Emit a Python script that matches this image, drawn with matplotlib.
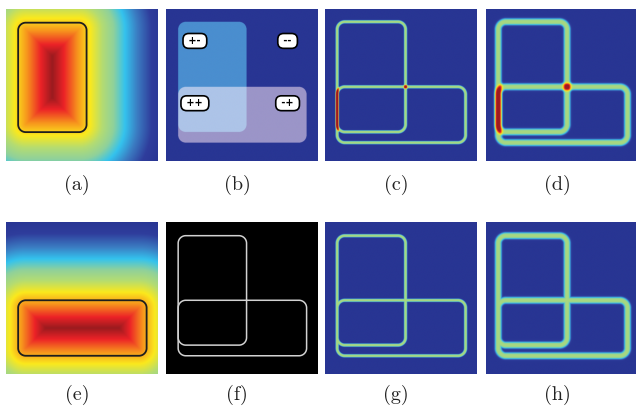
import numpy as np
import matplotlib
matplotlib.use("Agg")
import matplotlib.pyplot as plt
from matplotlib.colors import LinearSegmentedColormap, ListedColormap

# Square domain of 100 x 100 units, y measured downward from the top edge
RECT_A = [8.0, 53.0, 9.0, 81.0]     # x0, x1, y0, y1 : tall rounded rectangle
RECT_B = [8.0, 92.5, 51.5, 88.0]    # x0, x1, y0, y1 : wide rounded rectangle
CORNER_RADIUS = 5.0

PANEL_LABELS = ["(a)", "(b)", "(c)", "(d)", "(e)", "(f)", "(g)", "(h)"]

# Sign labels of the four regions in panel (b)
SIGN_LABELS = ["+-", "--", "++", "-+"]
SIGN_X = [19.0, 80.0, 19.0, 80.0]
SIGN_Y = [21.0, 21.0, 62.0, 62.0]

# Half-widths (domain units) and sharpness of the smoothed delta functions
NARROW_WIDTH, NARROW_POWER = 1.15, 4
WIDE_WIDTH, WIDE_POWER = 2.5, 3
DELTA_VMAX = 1.9

# Jet-like colour map
CMAP_STOPS = [0.0, 0.125, 0.25, 0.36, 0.46, 0.56, 0.67, 0.78, 0.9, 1.0]
CMAP_COLORS = ["#283593", "#2f3d9c", "#3b7cc2", "#34c3ee", "#8fd19b",
               "#b4dc72", "#fbe91c", "#f7941d", "#ec2227", "#9c1b1f"]

# Region colours of panel (b): outside, A only, B only, A and B
REGION_COLORS = ["#283593", "#4a8ecf", "#9b95c8", "#adc4e8"]

jet_print = LinearSegmentedColormap.from_list(
    "jet_print", list(zip(CMAP_STOPS, CMAP_COLORS)))
region_cmap = ListedColormap(REGION_COLORS)

N = 600
coords = (np.arange(N) + 0.5) * 100.0 / N
X, Y = np.meshgrid(coords, coords)
EXTENT = (0, 100, 100, 0)


def rounded_rect_sdf(x, y, rect, r):
    x0, x1, y0, y1 = rect
    cx, cy = (x0 + x1) / 2, (y0 + y1) / 2
    hx, hy = (x1 - x0) / 2 - r, (y1 - y0) / 2 - r
    qx = np.abs(x - cx) - hx
    qy = np.abs(y - cy) - hy
    outside = np.hypot(np.maximum(qx, 0), np.maximum(qy, 0))
    inside = np.minimum(np.maximum(qx, qy), 0)
    return outside + inside - r


def smooth_delta(phi, width, power):
    return np.exp(-np.abs(phi / width) ** power)


sd_a = rounded_rect_sdf(X, Y, RECT_A, CORNER_RADIUS)
sd_b = rounded_rect_sdf(X, Y, RECT_B, CORNER_RADIUS)

W, H = 636, 408
fig = plt.figure(figsize=(W / 100, H / 100), dpi=100)

PANEL_SIZE = 152
LEFTS = [6, 166, 325, 486]
TOPS = [9, 222]
LABEL_Y = [185, 395]

axes = []
for row in range(2):
    for col in range(4):
        ax = fig.add_axes([LEFTS[col] / W, 1 - (TOPS[row] + PANEL_SIZE) / H,
                           PANEL_SIZE / W, PANEL_SIZE / H])
        ax.set_xticks([])
        ax.set_yticks([])
        for s in ax.spines.values():
            s.set_visible(False)
        axes.append(ax)
        fig.text((LEFTS[col] + PANEL_SIZE / 2 - 5) / W, 1 - LABEL_Y[row] / H,
                 PANEL_LABELS[row * 4 + col], ha="center", va="center",
                 fontfamily="cmr10", fontsize=14.5, color="#222222")

narrow_a = smooth_delta(sd_a, NARROW_WIDTH, NARROW_POWER)
narrow_b = smooth_delta(sd_b, NARROW_WIDTH, NARROW_POWER)
wide_a = smooth_delta(sd_a, WIDE_WIDTH, WIDE_POWER)
wide_b = smooth_delta(sd_b, WIDE_WIDTH, WIDE_POWER)

# (a) signed distance of the tall rectangle
ax = axes[0]
ax.imshow(-sd_a, cmap=jet_print, extent=EXTENT, interpolation="bilinear")
ax.contour(X, Y, sd_a, levels=[0], colors="#1e1e1e", linewidths=1.3)

# (b) region partition
ax = axes[1]
regions = (sd_a < 0).astype(int) + 2 * (sd_b < 0).astype(int)
ax.imshow(regions, cmap=region_cmap, vmin=-0.5, vmax=3.5, extent=EXTENT,
          interpolation="antialiased")
for lab, sx, sy in zip(SIGN_LABELS, SIGN_X, SIGN_Y):
    ax.text(sx, sy, " " + lab + " ", ha="center", va="center", fontsize=7,
            fontweight="bold", color="black",
            bbox=dict(boxstyle="round,pad=0.25,rounding_size=0.6",
                      fc="white", ec="black", lw=1.2))

# (c) sum of narrow deltas
ax = axes[2]
ax.imshow(narrow_a + narrow_b, cmap=jet_print, vmin=0, vmax=DELTA_VMAX,
          extent=EXTENT, interpolation="antialiased")

# (d) sum of wide deltas
ax = axes[3]
ax.imshow(wide_a + wide_b, cmap=jet_print, vmin=0, vmax=DELTA_VMAX,
          extent=EXTENT, interpolation="antialiased")

# (e) signed distance of the wide rectangle
ax = axes[4]
ax.imshow(-sd_b, cmap=jet_print, extent=EXTENT, interpolation="bilinear")
ax.contour(X, Y, sd_b, levels=[0], colors="#1e1e1e", linewidths=1.3)

# (f) both contours on black
ax = axes[5]
ax.imshow(np.zeros_like(sd_a), cmap="gray", vmin=0, vmax=1, extent=EXTENT)
ax.contour(X, Y, sd_a, levels=[0], colors="#d2d2d2", linewidths=1.1)
ax.contour(X, Y, sd_b, levels=[0], colors="#d2d2d2", linewidths=1.1)

# (g) max of narrow deltas
ax = axes[6]
ax.imshow(np.maximum(narrow_a, narrow_b), cmap=jet_print, vmin=0,
          vmax=DELTA_VMAX, extent=EXTENT, interpolation="antialiased")

# (h) max of wide deltas
ax = axes[7]
ax.imshow(np.maximum(wide_a, wide_b), cmap=jet_print, vmin=0,
          vmax=DELTA_VMAX, extent=EXTENT, interpolation="antialiased")

for ax in axes:
    ax.set_xlim(0, 100)
    ax.set_ylim(100, 0)

fig.savefig("out.png", dpi=100)
